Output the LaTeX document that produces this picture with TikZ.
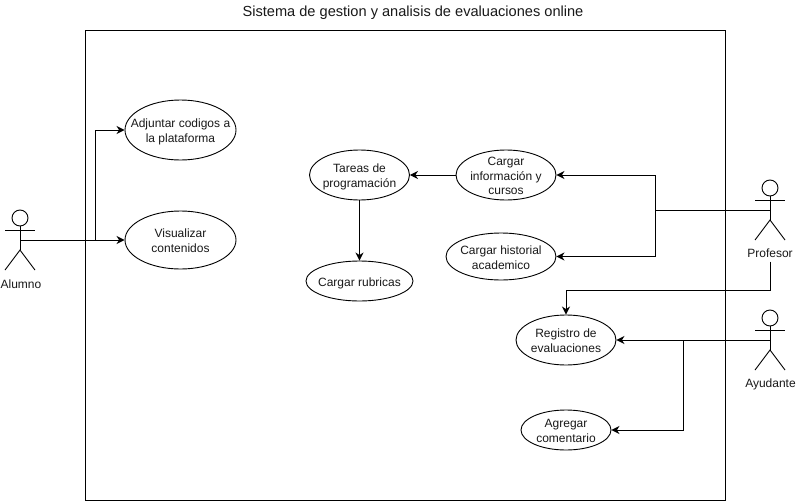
\documentclass[tikz,border=0pt]{standalone}
\usepackage{fontspec}
\setmainfont{Liberation Sans}
\usetikzlibrary{shapes.geometric,arrows.meta}
\tikzset{
  usecase/.style={draw=black,line width=0.9pt,fill=white,ellipse,inner xsep=-30pt,inner ysep=-22pt,font=\fontsize{12}{14.7}\selectfont,text=black!90},
  actorlabel/.style={inner sep=0pt,font=\fontsize{12}{15}\selectfont,text=black!90},
  link/.style={draw=black,line width=1pt,-{Stealth[length=8pt,width=8pt,inset=2.5pt]}},
  plainlink/.style={draw=black,line width=1pt},
  stick/.style={draw=black,line width=0.9pt},
}
% lowers the text of a use case a little inside its ellipse
\newcommand{\casetext}[1]{\vbox{\kern4.5pt\hbox{\begin{tabular}{@{}c@{}}#1\end{tabular}}}}
% actor: #1 name, #2 x, #3 head centre y
\newcommand{\stickman}[3]{%
  \draw[stick] (#2,#3) circle[radius=8];
  \draw[stick] (#2,#3+8) -- (#2,#3+32);
  \draw[stick] (#2-15,#3+12) -- (#2+15,#3+12);
  \draw[stick] (#2-15,#3+52) -- (#2,#3+32) -- (#2+15,#3+52);
  \coordinate (#1) at (#2,#3+22);
}
\begin{document}
\begin{tikzpicture}[x=1pt,y=-1pt]
\useasboundingbox (0,0) rectangle (796,501);
\fill[white] (0,0) rectangle (796,501);
\node[draw=black,line width=1pt,minimum width=640pt,minimum height=470pt,inner sep=0pt] (sistema) at (405.5,265) {};
\node[inner sep=0pt,font=\fontsize{14.6}{17}\selectfont,text=black!90] (titulo) at (413,12.5) {Sistema de gestion y analisis de evaluaciones online};

\node[usecase,minimum width=111pt,minimum height=60pt] (adjuntar) at (180.5,130) {\casetext{Adjuntar codigos a\\la plataforma}};
\node[usecase,minimum width=111pt,minimum height=58pt] (visualizar) at (180.5,240) {\casetext{Visualizar\\contenidos}};
\node[usecase,minimum width=100pt,minimum height=50pt] (tareas) at (359.5,175) {\casetext{Tareas de\\programación}};
\node[usecase,minimum width=100pt,minimum height=50pt] (info) at (506,175) {\casetext{Cargar\\información y\\cursos}};
\node[usecase,minimum width=110pt,minimum height=47pt] (historial) at (501,256.5) {\casetext{Cargar historial\\academico}};
\node[usecase,minimum width=107pt,minimum height=40pt] (rubricas) at (359.5,281) {\casetext{Cargar rubricas}};
\node[usecase,minimum width=100pt,minimum height=50pt] (registro) at (566,340) {\casetext{Registro de\\evaluaciones}};
\node[usecase,minimum width=90pt,minimum height=40pt] (comentario) at (566,430) {\casetext{Agregar\\comentario}};

\stickman{alumno}{20}{218}
\stickman{profesor}{770}{188}
\stickman{ayudante}{770}{318}
\node[actorlabel] (lalumno) at (21,284) {Alumno};
\node[actorlabel] (lprofesor) at (770,253) {Profesor};
\node[actorlabel] (layudante) at (770.5,384) {Ayudante};

\coordinate (jalumno) at (95.5,240);
\coordinate (jprofesor) at (655.5,210);
\coordinate (jayudante) at (683,340);
\coordinate (sprofesor) at (770,261.5);
\coordinate (tprofesor) at (770,290.5);

\draw[link] (alumno) -- (visualizar.west);
\draw[link] (jalumno) |- (adjuntar.west);
\draw[link] (info.west) -- (tareas.east);
\draw[link] (tareas.south) -- (rubricas.north);
\draw[plainlink] (profesor) -- (jprofesor);
\draw[link] (jprofesor) |- (info.east);
\draw[link] (jprofesor) |- (historial.east);
\draw[link] (sprofesor) -- (tprofesor) -| (registro.north);
\draw[link] (ayudante) -- (registro.east);
\draw[link] (jayudante) |- (comentario.east);
\end{tikzpicture}
\end{document}
